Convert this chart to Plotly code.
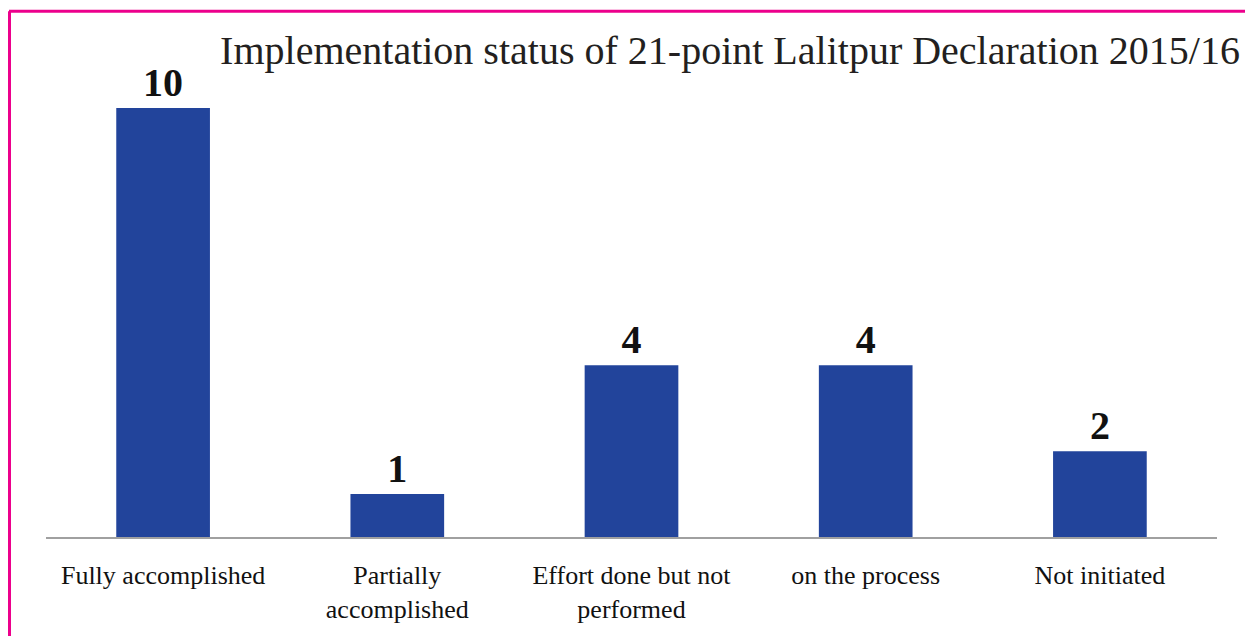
import plotly.graph_objects as go

categories = ["Fully accomplished", "Partially<br>accomplished", "Effort done but not<br>performed",
              "on the process", "Not initiated"]
values = [10, 1, 4, 4, 2]
labels = ["10", "1", "4", "4", "2"]
title_text = "Implementation status of 21-point Lalitpur Declaration 2015/16"

# the page body adds an 8px offset; figure is sized to fill the rest of the window
OFF = 8
W, H = 1253 - OFF, 636 - OFF
L, R, T, B = 46 - OFF, 36, 65 - OFF, 96
pw, ph = W - L - R, H - T - B

def px_to_paper_x(x):
    return (x - OFF - L) / pw

def px_to_paper_y(y):
    return (H - B - (y - OFF)) / ph

fig = go.Figure()
fig.add_trace(go.Bar(
    x=categories, y=values, text=labels, textposition="outside",
    textfont=dict(family="Liberation Serif", size=40, color="#111111", weight="bold"),
    marker=dict(color="#22449b", line=dict(width=0)),
    constraintext="none", cliponaxis=False, hoverinfo="skip",
))

magenta = "#ec008c"
fig.add_shape(type="line", xref="paper", yref="paper",
              x0=px_to_paper_x(9), x1=px_to_paper_x(1260), y0=px_to_paper_y(11), y1=px_to_paper_y(11),
              line=dict(color=magenta, width=3))
fig.add_shape(type="line", xref="paper", yref="paper",
              x0=px_to_paper_x(9.5), x1=px_to_paper_x(9.5), y0=px_to_paper_y(11), y1=px_to_paper_y(645),
              line=dict(color=magenta, width=3))

fig.update_layout(
    width=W, height=H,
    margin=dict(l=L, r=R, t=T, b=B),
    paper_bgcolor="white", plot_bgcolor="white",
    bargap=0.6, showlegend=False,
    title=dict(text=title_text, xref="container", yref="container",
               x=(730 - OFF) / W, xanchor="center",
               y=1 - (50 - OFF) / H, yanchor="middle",
               font=dict(family="Liberation Serif", size=40, color="#231f20")),
    xaxis=dict(showline=True, linecolor="#a0a0a0", linewidth=2, ticks="", showgrid=False,
               ticklabelstandoff=14,
               tickfont=dict(family="Liberation Serif", size=26, color="#111111")),
    yaxis=dict(range=[0, 11], visible=False, showgrid=False, zeroline=False),
)

fig.write_html("out.html")
